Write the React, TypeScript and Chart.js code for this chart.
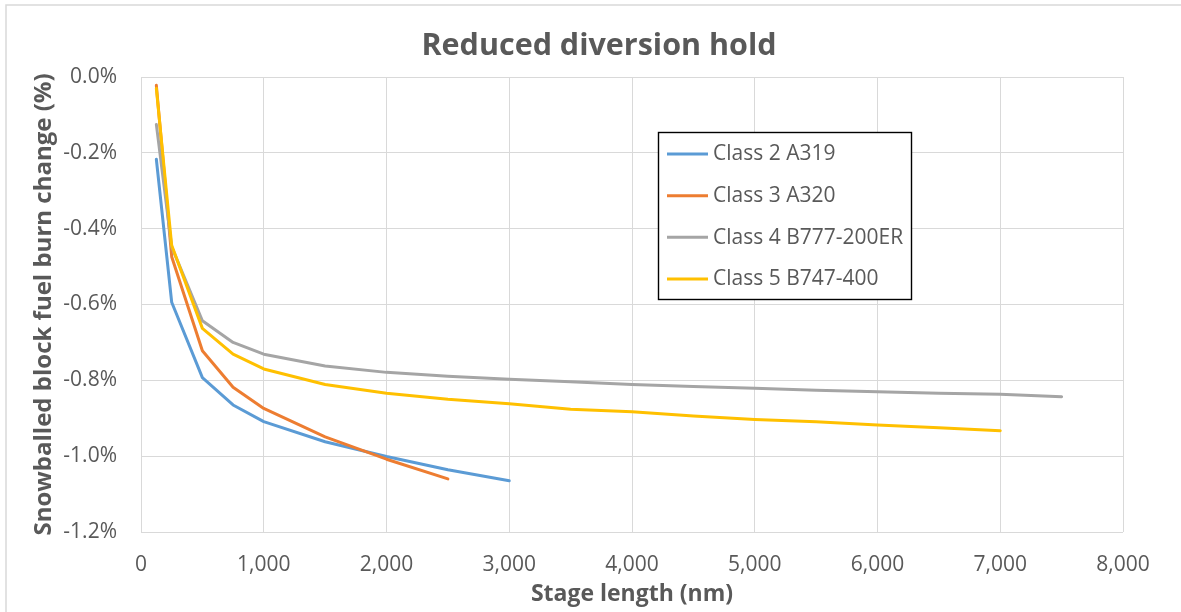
import React, { useEffect, useRef } from 'react';
import { Chart, registerables } from 'chart.js';

Chart.register(...registerables);

// ---------- data ----------
const CHART_TITLE = 'Reduced diversion hold';
const X_TITLE = 'Stage length (nm)';
const Y_TITLE = 'Snowballed block fuel burn change (%)';

const SERIES_NAMES = ['Class 2 A319', 'Class 3 A320', 'Class 4 B777-200ER', 'Class 5 B747-400'];
const SERIES_COLORS = ['#5B9BD5', '#ED7D31', '#A5A5A5', '#FFC000'];

const STAGE_CLASS2 = [125, 250, 500, 750, 1000, 1500, 2000, 2500, 3000];
const FUEL_CLASS2 = [-0.217, -0.594, -0.793, -0.865, -0.909, -0.962, -1.001, -1.036, -1.065];

const STAGE_CLASS3 = [125, 250, 500, 750, 1000, 1500, 2000, 2500];
const FUEL_CLASS3 = [-0.022, -0.474, -0.722, -0.818, -0.874, -0.949, -1.008, -1.06];

const STAGE_CLASS4 = [125, 250, 500, 750, 1000, 1500, 2000, 2500, 3000, 3500, 4000, 4500, 5000, 5500, 6000, 6500, 7000, 7500];
const FUEL_CLASS4 = [-0.125, -0.448, -0.643, -0.7, -0.731, -0.762, -0.779, -0.789, -0.797, -0.804, -0.811, -0.816, -0.821, -0.826, -0.83, -0.834, -0.837, -0.843];

const STAGE_CLASS5 = [125, 250, 500, 750, 1000, 1500, 2000, 2500, 3000, 3500, 4000, 4500, 5000, 5500, 6000, 6500, 7000];
const FUEL_CLASS5 = [-0.03, -0.444, -0.663, -0.731, -0.77, -0.811, -0.834, -0.85, -0.862, -0.876, -0.883, -0.894, -0.903, -0.909, -0.918, -0.925, -0.933];

const X_MIN = 0;
const X_MAX = 8000;
const X_STEP = 1000;
const Y_MIN = -1.2;
const Y_MAX = 0;
const Y_STEP = 0.2;

const STAGES = [STAGE_CLASS2, STAGE_CLASS3, STAGE_CLASS4, STAGE_CLASS5];
const FUELS = [FUEL_CLASS2, FUEL_CLASS3, FUEL_CLASS4, FUEL_CLASS5];

// ---------- styles ----------
const FONT = '"Open Sans", "Noto Sans", "DejaVu Sans", sans-serif';
const TEXT_COLOR = '#595959';
const GRID_COLOR = '#D9D9D9';

const framePlugin = {
  id: 'frame',
  beforeDraw(chart: any) {
    const { ctx, width, height } = chart;
    ctx.save();
    ctx.fillStyle = '#ffffff';
    ctx.fillRect(0, 0, width, height);
    ctx.strokeStyle = '#D9D9D9';
    ctx.lineWidth = 1.5;
    ctx.beginPath();
    ctx.moveTo(6, height + 2);
    ctx.lineTo(6, 5);
    ctx.lineTo(width + 2, 5);
    ctx.stroke();
    ctx.restore();
  },
};

const boxLegendPlugin = {
  id: 'boxLegend',
  afterDatasetsDraw(chart: any) {
    const ctx = chart.ctx;
    const bx = 658.5, by = 132.5, bw = 253, bh = 167;
    ctx.save();
    ctx.fillStyle = '#ffffff';
    ctx.fillRect(bx, by, bw, bh);
    ctx.strokeStyle = '#000000';
    ctx.lineWidth = 1.4;
    ctx.strokeRect(bx, by, bw, bh);
    const rows = [154, 195.7, 237.3, 279];
    chart.data.datasets.forEach((ds: any, i: number) => {
      const y = rows[i];
      ctx.strokeStyle = ds.borderColor;
      ctx.lineWidth = 3;
      ctx.lineCap = 'butt';
      ctx.beginPath();
      ctx.moveTo(667, y);
      ctx.lineTo(708, y);
      ctx.stroke();
      ctx.fillStyle = TEXT_COLOR;
      ctx.font = `21px ${FONT}`;
      ctx.textAlign = 'left';
      ctx.textBaseline = 'middle';
      ctx.fillText(ds.label, 713, y + 0.5);
    });
    ctx.restore();
  },
};

export default function App() {
  const canvasRef = useRef<HTMLCanvasElement | null>(null);

  useEffect(() => {
    document.body.style.margin = '0';
    const canvas = canvasRef.current;
    if (!canvas) return;

    const datasets = SERIES_NAMES.map((name, i) => ({
      label: name,
      data: STAGES[i].map((x, j) => ({ x, y: FUELS[i][j] })),
      borderColor: SERIES_COLORS[i],
      backgroundColor: SERIES_COLORS[i],
      borderWidth: 3,
      pointRadius: 0,
      pointHoverRadius: 0,
      tension: 0,
      fill: false,
      borderJoinStyle: 'round' as const,
      borderCapStyle: 'round' as const,
      order: SERIES_NAMES.length - i,
      yAxisID: 'y',
    }));

    const chart = new Chart(canvas, {
      type: 'line',
      data: { datasets },
      plugins: [framePlugin, boxLegendPlugin],
      options: {
        responsive: false,
        animation: false,
        layout: { padding: { left: 17, top: 0, right: 0, bottom: 0 } },
        plugins: {
          legend: { display: false },
          tooltip: { enabled: false },
          title: {
            display: true,
            text: CHART_TITLE,
            color: TEXT_COLOR,
            font: { family: FONT, size: 30.5, weight: 'bold' },
            padding: { top: 28.4, bottom: 12 },
          },
        },
        scales: {
          x: {
            type: 'linear',
            min: X_MIN,
            max: X_MAX,
            afterFit: (scale: any) => {
              scale.height = 80;
            },
            ticks: {
              stepSize: X_STEP,
              color: TEXT_COLOR,
              font: { family: FONT, size: 21 },
              padding: 20,
              maxRotation: 0,
              callback: (v: any) => Number(v).toLocaleString('en-US'),
            },
            grid: { color: GRID_COLOR, lineWidth: 1, drawTicks: false },
            border: { display: false },
            title: {
              display: true,
              text: X_TITLE,
              color: TEXT_COLOR,
              font: { family: FONT, size: 23, weight: 'bold' },
              padding: { top: 0, bottom: 4 },
            },
          },
          y: {
            type: 'linear',
            min: Y_MIN,
            max: Y_MAX,
            afterFit: (scale: any) => {
              scale.width = 124;
            },
            ticks: {
              stepSize: Y_STEP,
              color: TEXT_COLOR,
              font: { family: FONT, size: 21 },
              padding: 24,
              callback: (v: any) => {
                const n = Math.abs(Number(v)) < 1e-9 ? 0 : Number(v);
                return n.toFixed(1) + '%';
              },
            },
            grid: { color: GRID_COLOR, lineWidth: 1, drawTicks: false },
            border: { display: false },
            title: {
              display: true,
              text: Y_TITLE,
              color: TEXT_COLOR,
              font: { family: FONT, size: 24, weight: 'bold' },
              padding: { top: 12.4, bottom: 0 },
            },
          },
          ySpacer: {
            type: 'linear',
            position: 'right',
            display: true,
            afterFit: (scale: any) => {
              scale.width = 58;
            },
            ticks: { display: false },
            grid: { display: false, drawTicks: false },
            border: { display: false },
            title: { display: false },
          },
        },
      },
    } as any);

    return () => chart.destroy();
  }, []);

  return (
    <div style={{ position: 'absolute', left: 0, top: 0, width: 1181, height: 612 }}>
      <canvas ref={canvasRef} width={1181} height={612} style={{ display: 'block', width: 1181, height: 612 }} />
    </div>
  );
}
